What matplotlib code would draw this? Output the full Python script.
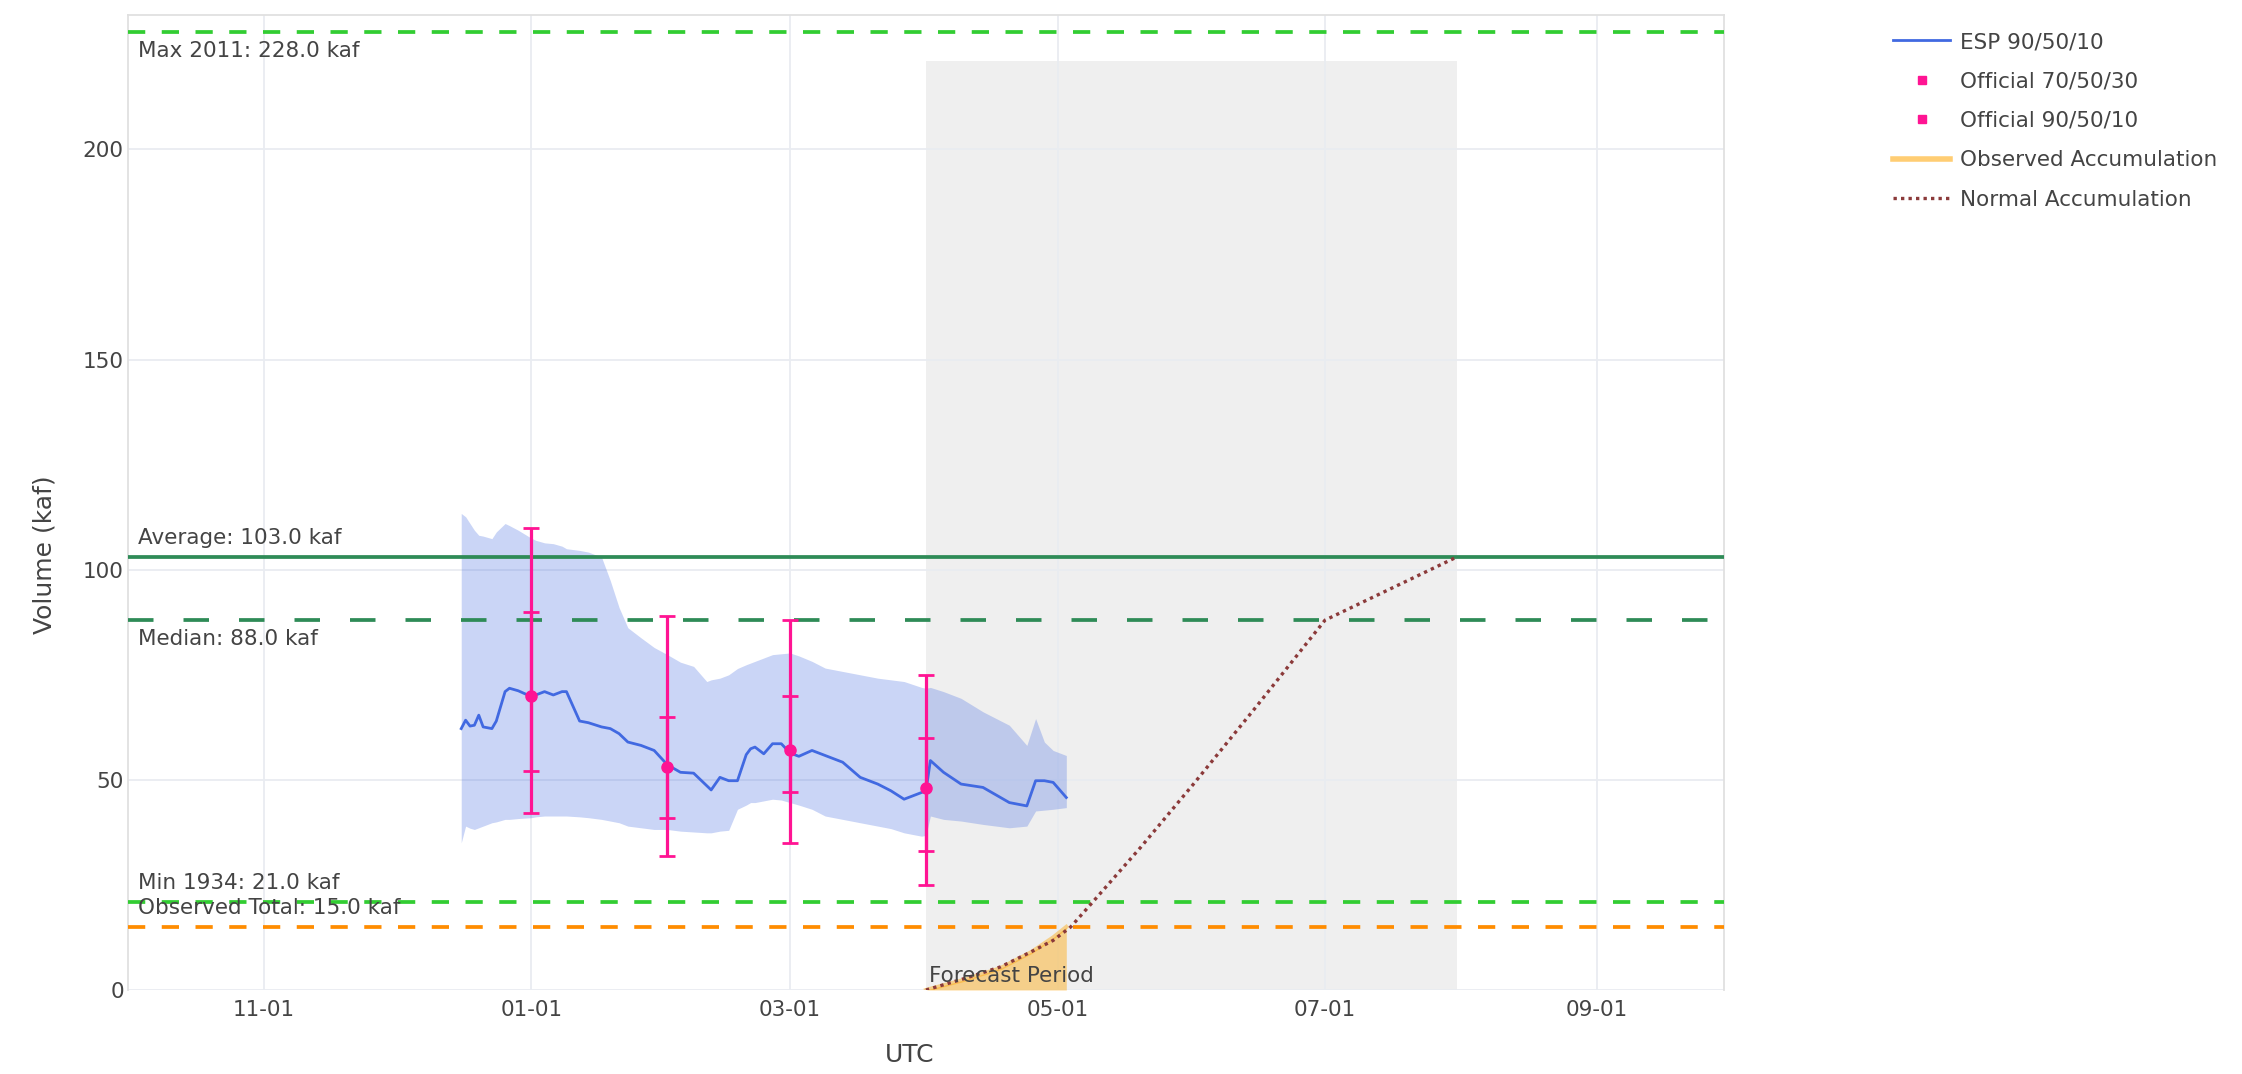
import matplotlib
matplotlib.use("Agg")
import matplotlib.pyplot as plt
import matplotlib.dates as mdates
import numpy as np
import pandas as pd
from matplotlib.lines import Line2D

plt.rcParams["font.family"] = ["DejaVu Sans"]

# ---------------------------------------------------------------- data
# ESP ensemble: 10% / 50% / 90% exceedance volumes (kaf)
esp_dates = [
    "2024-12-16", "2024-12-17", "2024-12-18", "2024-12-19", "2024-12-20",
    "2024-12-21", "2024-12-23", "2024-12-24", "2024-12-26", "2024-12-27",
    "2024-12-29", "2025-01-01", "2025-01-02", "2025-01-04", "2025-01-06",
    "2025-01-08", "2025-01-09", "2025-01-12", "2025-01-14", "2025-01-17",
    "2025-01-19", "2025-01-21", "2025-01-23", "2025-01-26", "2025-01-29",
    "2025-02-01", "2025-02-04", "2025-02-07", "2025-02-10", "2025-02-11",
    "2025-02-13", "2025-02-15", "2025-02-17", "2025-02-19", "2025-02-20",
    "2025-02-21", "2025-02-23", "2025-02-25", "2025-02-27", "2025-03-01",
    "2025-03-03", "2025-03-06", "2025-03-09", "2025-03-13", "2025-03-17",
    "2025-03-21", "2025-03-24", "2025-03-27", "2025-03-31", "2025-04-01",
    "2025-04-02", "2025-04-05", "2025-04-09", "2025-04-14", "2025-04-20",
    "2025-04-24", "2025-04-26", "2025-04-28", "2025-04-30", "2025-05-03",
]
esp_p50 = [
    62.2, 64.2, 62.8, 63.0, 65.4, 62.6, 62.2, 64.0, 71.0, 71.8,
    71.2, 69.8, 70.2, 71.0, 70.2, 71.0, 71.0, 64.0, 63.6, 62.6,
    62.2, 61.0, 59.0, 58.2, 57.0, 53.6, 51.8, 51.6, 48.6, 47.6,
    50.6, 49.8, 49.8, 56.0, 57.4, 57.8, 56.2, 58.6, 58.6, 56.4,
    55.6, 57.0, 55.8, 54.2, 50.6, 49.0, 47.4, 45.4, 47.0, 47.4,
    54.6, 51.8, 49.0, 48.2, 44.6, 43.8, 49.8, 49.8, 49.4, 45.8,
]
esp_p10 = [
    113.4, 112.6, 111.0, 109.4, 108.2, 108.0, 107.4, 109.0, 111.0, 110.5,
    109.4, 107.5, 107.0, 106.4, 106.2, 105.6, 105.0, 104.6, 104.2, 103.0,
    97.4, 91.0, 86.2, 83.8, 81.5, 79.8, 78.0, 77.0, 73.4, 73.8,
    74.2, 75.0, 76.5, 77.4, 77.8, 78.2, 79.0, 79.8, 80.0, 80.2,
    79.5, 78.2, 76.6, 75.8, 75.0, 74.2, 73.8, 73.4, 72.0, 71.8,
    72.0, 71.0, 69.4, 66.2, 63.0, 58.2, 64.6, 59.0, 57.0, 55.8,
]
esp_p90 = [
    35.0, 39.0, 38.5, 38.2, 38.6, 39.0, 39.8, 40.0, 40.6, 40.6,
    40.8, 41.0, 41.2, 41.4, 41.4, 41.4, 41.4, 41.2, 41.0, 40.6,
    40.2, 39.8, 39.0, 38.6, 38.2, 38.2, 37.8, 37.6, 37.4, 37.4,
    37.8, 38.0, 43.0, 44.0, 44.6, 44.6, 45.0, 45.4, 45.2, 44.6,
    44.0, 43.0, 41.4, 40.6, 39.8, 39.0, 38.4, 37.4, 36.6, 36.8,
    41.4, 40.6, 40.2, 39.4, 38.6, 39.0, 42.6, 42.8, 43.0, 43.4,
]

# Official forecasts issued at the start of each month (kaf)
official_dates = ["2025-01-01", "2025-02-01", "2025-03-01", "2025-04-01"]
official_p10 = [110, 89, 88, 75]
official_p30 = [90, 65, 70, 60]
official_p50 = [70, 53, 57, 48]
official_p70 = [52, 41, 47, 33]
official_p90 = [42, 32, 35, 25]

# Accumulated volume through the forecast period (kaf)
observed_dates = ["2025-04-01", "2025-04-10", "2025-04-18", "2025-04-25",
                  "2025-04-30", "2025-05-03"]
observed_accum = [0.0, 2.5, 5.2, 9.0, 12.5, 15.0]

normal_dates = ["2025-04-01", "2025-04-10", "2025-04-18", "2025-04-25",
                "2025-04-30", "2025-05-04", "2025-05-09", "2025-05-20",
                "2025-06-01", "2025-06-15", "2025-07-01", "2025-07-15",
                "2025-07-31"]
normal_accum = [0.0, 2.8, 5.5, 9.1, 11.8, 15.0, 20.9, 34.0, 49.0, 67.0,
                88.0, 95.0, 103.0]

# Historical reference statistics (kaf)
stat_names = ["Max 2011", "Average", "Median", "Min 1934", "Observed Total"]
stat_values = [228.0, 103.0, 88.0, 21.0, 15.0]
stat_colors = ["#32CD32", "#2E8B57", "#2E8B57", "#32CD32", "#FF8C00"]
stat_styles = ["dash", "solid", "longdash", "dash", "dash"]
stat_label_side = ["below", "above", "below", "above", "above"]

forecast_start, forecast_end = "2025-04-01", "2025-07-31"
forecast_top = 221.0

x_range = ["2024-10-01", "2025-09-30"]
y_range = [0, 232]
x_ticks = ["2024-11-01", "2025-01-01", "2025-03-01", "2025-05-01",
           "2025-07-01", "2025-09-01"]
y_ticks = [0, 50, 100, 150, 200]

# ---------------------------------------------------------------- figure
W, H, DPI = 2242, 1074, 100
fig = plt.figure(figsize=(W / DPI, H / DPI), dpi=DPI)
ax = fig.add_axes([128 / W, 1 - 990 / H, (1724 - 128) / W, (990 - 15) / H])

txt = "#444444"
fs = 15.5

d = lambda s: pd.to_datetime(s)

ax.set_xlim(d(x_range[0]), d(x_range[1]))
ax.set_ylim(*y_range)

# forecast period shading
ax.fill_between([d(forecast_start), d(forecast_end)], 0, forecast_top,
                color="#D9D9D9", alpha=0.42, lw=0, zorder=0)
ax.annotate("Forecast Period", xy=(d(forecast_start), 0),
            xycoords=("data", "axes fraction"), xytext=(2, 3),
            textcoords="offset points", ha="left", va="bottom",
            fontsize=fs, color=txt, zorder=6)

# grid
ax.set_axisbelow(True)
ax.grid(True, color="#E9ECF1", lw=1.3)
for s in ax.spines.values():
    s.set_color("#E0E0E0")
    s.set_linewidth(1.3)
ax.spines["bottom"].set_visible(False)

# reference lines
lw_ref = 2.7
dash_map = {"dash": (0, (4.6, 4.4)), "longdash": (0, (6.8, 8.0)), "solid": "-"}
for name, val, col, sty, side in zip(stat_names, stat_values, stat_colors,
                                     stat_styles, stat_label_side):
    ax.axhline(val, color=col, lw=lw_ref, linestyle=dash_map[sty], zorder=3)
    off = 13.5 if side == "above" else -13.5
    ax.annotate(f"{name}: {val:.1f} kaf", xy=(0, val),
                xycoords=("axes fraction", "data"), xytext=(7, off),
                textcoords="offset points", ha="left", va="center",
                fontsize=fs, color=txt, zorder=6)

# ESP band and median
ed = pd.to_datetime(esp_dates)
ax.fill_between(ed, esp_p90, esp_p10, color="royalblue", alpha=0.28,
                lw=0, zorder=2)
ax.plot(ed, esp_p50, color="royalblue", lw=2.0, zorder=4)

# observed and normal accumulation
od = pd.to_datetime(observed_dates)
ax.fill_between(od, 0, observed_accum, color="#FFA500", alpha=0.42, lw=0,
                zorder=2)
ax.plot(od, observed_accum, color="#FFA500", alpha=0.42, lw=3, zorder=2)
nd = pd.to_datetime(normal_dates)
ax.plot(nd, normal_accum, color="#8B3A3A", lw=2.4,
        linestyle=(0, (1.0, 1.25)), zorder=5)

# official forecasts
fd = pd.to_datetime(official_dates)
p50 = np.array(official_p50, dtype=float)
pink = "#FF1493"
ax.errorbar(fd, p50, yerr=[p50 - np.array(official_p90), np.array(official_p10) - p50],
            fmt="none", ecolor=pink, elinewidth=2.3, capsize=5.5, capthick=2.0,
            zorder=7)
ax.errorbar(fd, p50, yerr=[p50 - np.array(official_p70), np.array(official_p30) - p50],
            fmt="o", color=pink, ecolor=pink, elinewidth=2.3, capsize=5.5,
            capthick=2.0, markersize=8, zorder=8)

# axes formatting
ax.set_xticks(pd.to_datetime(x_ticks))
ax.xaxis.set_major_formatter(mdates.DateFormatter("%m-%d"))
ax.set_yticks(y_ticks)
ax.tick_params(axis="both", length=0, labelsize=fs, labelcolor=txt)
ax.tick_params(axis="x", pad=7)
ax.tick_params(axis="y", pad=3)
ax.set_xlabel("UTC", fontsize=18, color=txt)
ax.set_ylabel("Volume (kaf)", fontsize=18, color=txt)
ax.xaxis.set_label_coords(0.49, -0.054)
ax.yaxis.set_label_coords(-0.0445, 0.446)

# legend
handles = [
    Line2D([], [], color="royalblue", lw=2.0),
    Line2D([], [], color=pink, marker="s", ls="none", markersize=6),
    Line2D([], [], color=pink, marker="s", ls="none", markersize=6),
    Line2D([], [], color="#FFA500", alpha=0.55, lw=4),
    Line2D([], [], color="#8B3A3A", lw=2.4, linestyle=(0, (1.0, 1.25))),
]
labels = ["ESP 90/50/10", "Official 70/50/30", "Official 90/50/10",
          "Observed Accumulation", "Normal Accumulation"]
leg = fig.legend(handles, labels, loc="upper left",
                 bbox_to_anchor=(1893 / W, 1 - 32 / H), frameon=False,
                 borderpad=0, borderaxespad=0, handlelength=2.65,
                 handletextpad=0.45, labelspacing=0.9, fontsize=fs)
for t in leg.get_texts():
    t.set_color(txt)

fig.savefig("out.png", dpi=DPI, facecolor="white")
